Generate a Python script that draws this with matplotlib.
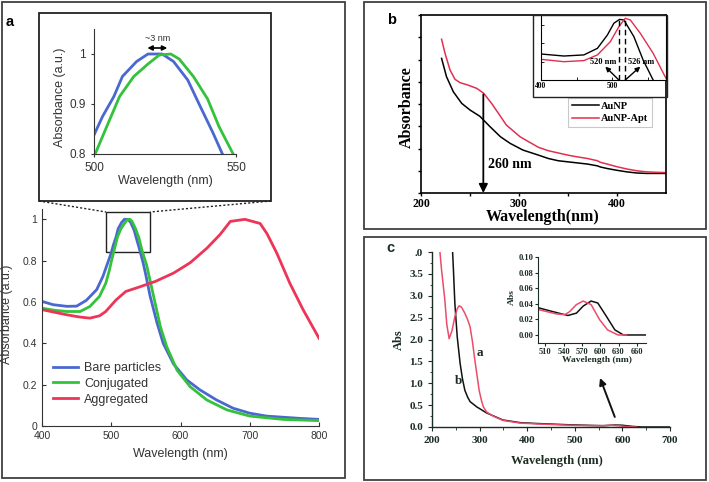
import matplotlib
matplotlib.use("Agg")
import matplotlib.pyplot as plt
from matplotlib.patches import Rectangle
import numpy as np

W, H = 709, 482
fig = plt.figure(figsize=(W/100, H/100), dpi=100)

def rect(l, t, r, b):
    return [l / W, 1 - b / H, (r - l) / W, (b - t) / H]

SANS = "Liberation Sans"
SERIF = "Liberation Serif"

# ---------------- Panel a data ----------------
a_bare_x = [400, 416, 436, 450, 464, 479, 488, 496, 500, 503, 507, 510, 515, 519, 524, 528, 533, 537, 542, 546,
            550, 556, 566, 575, 590, 609, 628, 652, 676, 700, 724, 772, 800]
a_bare_y = [0.603, 0.587, 0.579, 0.58, 0.608, 0.66, 0.724, 0.80, 0.838, 0.875, 0.915, 0.955, 0.985, 1.0, 1.0, 0.985,
            0.948, 0.90, 0.841, 0.79, 0.73, 0.63, 0.50, 0.40, 0.30, 0.223, 0.175, 0.126, 0.086, 0.062, 0.048, 0.037, 0.032]
a_conj_x = [400, 418, 436, 455, 469, 483, 492, 497, 500.4, 504.5, 509, 514, 519, 523, 527, 530, 535, 540, 544, 549,
            551, 561, 571, 580, 595, 614, 638, 667, 700, 748, 800]
a_conj_y = [0.57, 0.56, 0.554, 0.554, 0.578, 0.627, 0.69, 0.75, 0.80, 0.855, 0.915, 0.955, 0.98, 0.998, 1.0, 0.99,
            0.955, 0.91, 0.855, 0.80, 0.78, 0.63, 0.48, 0.385, 0.27, 0.19, 0.126, 0.078, 0.048, 0.032, 0.026]
a_aggr_x = [400, 436, 455, 469, 483, 492, 507, 521, 540, 564, 590, 614, 638, 657, 672, 693, 715, 725, 739, 758, 777, 800]
a_aggr_y = [0.563, 0.538, 0.527, 0.522, 0.533, 0.554, 0.61, 0.651, 0.672, 0.70, 0.74, 0.79, 0.86, 0.926, 0.99, 1.0,
            0.98, 0.93, 0.837, 0.69, 0.563, 0.425]
a_labels = ["Bare particles", "Conjugated", "Aggregated"]
a_colors = ["#4a68d0", "#33c23a", "#ec3557"]

# ---------------- Panel b data ----------------
b_np_x = [221, 226, 233, 241.5, 250, 260, 270, 281, 291, 304, 320, 330, 340, 350, 360, 370, 380, 383, 390, 400, 410,
          420, 430, 450]
b_np_y = [6.05, 5.23, 4.55, 4.03, 3.73, 3.45, 3.0, 2.53, 2.23, 1.93, 1.7, 1.55, 1.45, 1.4, 1.35, 1.3, 1.22, 1.17, 1.1,
          1.02, 0.95, 0.9, 0.88, 0.88]
b_apt_x = [221, 224.5, 229.6, 234.7, 239.8, 248, 257, 264, 272, 279, 287, 301, 310, 320, 330, 340, 350, 360, 370, 380,
           383, 390, 400, 410, 420, 430, 440, 450]
b_apt_y = [6.91, 6.28, 5.53, 5.11, 4.96, 4.85, 4.70, 4.48, 4.03, 3.58, 3.06, 2.53, 2.3, 2.05, 1.9, 1.8, 1.7, 1.62, 1.55,
           1.45, 1.38, 1.3, 1.18, 1.08, 1.0, 0.95, 0.93, 0.92]
bi_np_x = [400, 432, 460, 479, 493, 502, 510, 516, 530, 543, 557]
bi_np_y = [1.42, 1.31, 1.37, 1.73, 2.46, 3.1, 3.31, 3.28, 2.37, 1.09, 0.0]
bi_apt_x = [400, 432, 460, 479, 497, 509, 518, 525, 539, 557, 575]
bi_apt_y = [1.13, 1.0, 1.06, 1.37, 2.09, 2.91, 3.37, 3.28, 2.55, 1.46, 0.09]
b_labels = ["AuNP", "AuNP-Apt"]
b_peaks = [509, 518]
b_peak_labels = ["520 nm", "526 nm"]

# ---------------- Panel c data ----------------
c_a_x = [215, 220, 227, 231, 236, 242, 248, 253, 257, 262, 269, 275, 280, 285, 290, 295, 299, 304, 308, 315, 330, 349,
         385, 420, 490, 530, 559, 575, 590, 610, 630]
c_a_y = [4.2, 3.6, 2.9, 2.35, 2.02, 2.2, 2.52, 2.7, 2.77, 2.74, 2.6, 2.45, 2.29, 1.95, 1.53, 1.15, 0.84, 0.6, 0.46,
         0.34, 0.24, 0.15, 0.09, 0.07, 0.04, 0.03, 0.03, 0.04, 0.03, 0.01, 0.0]
c_b_x = [242, 245, 248, 253, 259, 264, 269, 275, 280, 294, 315, 349, 385, 420, 490, 540, 560, 585, 600, 620, 640, 700]
c_b_y = [4.3, 3.6, 2.83, 2.06, 1.46, 1.1, 0.84, 0.68, 0.58, 0.46, 0.32, 0.16, 0.1, 0.08, 0.05, 0.035, 0.03, 0.045,
         0.04, 0.015, 0.0, 0.0]
ci_a_x = [498, 528, 542, 550, 561, 572, 585, 599, 612, 629, 643]
ci_a_y = [0.0327, 0.027, 0.026, 0.030, 0.039, 0.0435, 0.039, 0.0196, 0.0065, 0.0, 0.0]
ci_b_x = [498, 522, 547, 561, 572, 585, 596, 610, 624, 638, 648, 675]
ci_b_y = [0.035, 0.030, 0.025, 0.028, 0.037, 0.0435, 0.041, 0.024, 0.0065, 0.0, 0.0, 0.0]

GRAY = "#333333"
CTXT = "#1b2c22"

# ================= Panel a main =================
ax = fig.add_axes(rect(42, 209, 319, 426))
for xs, ys, lab, col in zip([a_bare_x, a_conj_x, a_aggr_x], [a_bare_y, a_conj_y, a_aggr_y], a_labels, a_colors):
    ax.plot(xs, ys, color=col, lw=2.0, label=lab)
ax.set_xlim(400, 800)
ax.set_ylim(0, 1.05)
ax.set_xticks([400, 500, 600, 700, 800])
ax.set_yticks([0, 0.2, 0.4, 0.6, 0.8, 1.0])
ax.set_yticklabels(["0", "0.2", "0.4", "0.6", "0.8", "1"])
for s in ["top", "right"]:
    ax.spines[s].set_visible(False)
for s in ["left", "bottom"]:
    ax.spines[s].set_color(GRAY)
ax.tick_params(direction="in", length=3, colors=GRAY, labelsize=7.5, labelcolor=GRAY)
for t in ax.get_xticklabels() + ax.get_yticklabels():
    t.set_family(SANS)
ax.set_xlabel("Wavelength (nm)", family=SANS, fontsize=9, color=GRAY)
ax.set_ylabel("Absorbance (a.u.)", family=SANS, fontsize=9, color=GRAY)
ax.xaxis.set_label_coords(0.498, -0.10)
ax.yaxis.set_label_coords(-0.103, 0.516)
leg = ax.legend(loc="upper left", bbox_to_anchor=(53 / W, 1 - 362 / H), bbox_transform=fig.transFigure,
                frameon=False, prop={"family": SANS, "size": 9}, borderpad=0, borderaxespad=0,
                handlelength=2.0, labelspacing=0.3, handletextpad=0.5, labelcolor=GRAY)
ax.add_patch(Rectangle((492, 0.84), 64, 0.197, fill=False, edgecolor="#222222", lw=1.0, clip_on=False))

# ================= Panel a inset =================
axi = fig.add_axes(rect(94, 29, 236, 154))
axi.plot(a_bare_x, a_bare_y, color=a_colors[0], lw=2.0)
axi.plot(a_conj_x, a_conj_y, color=a_colors[1], lw=2.0)
axi.set_xlim(500, 550)
axi.set_ylim(0.8, 1.05)
axi.set_xticks([500, 550])
axi.set_yticks([0.8, 0.9, 1.0])
axi.set_yticklabels(["0.8", "0.9", "1"])
for s in ["top", "right"]:
    axi.spines[s].set_visible(False)
for s in ["left", "bottom"]:
    axi.spines[s].set_color(GRAY)
axi.tick_params(direction="out", length=2.5, colors=GRAY, labelsize=8.5, labelcolor=GRAY)
for t in axi.get_xticklabels() + axi.get_yticklabels():
    t.set_family(SANS)
axi.set_xlabel("Wavelength (nm)", family=SANS, fontsize=9, color=GRAY)
axi.set_ylabel("Absorbance (a.u.)", family=SANS, fontsize=9, color=GRAY)
axi.xaxis.set_label_coords(0.5, -0.165)
axi.yaxis.set_label_coords(-0.20, 0.456)
axi.annotate("", xy=(518.8, 1.012), xytext=(525.8, 1.012),
             arrowprops=dict(arrowstyle="<|-|>", color="black", lw=1.2, mutation_scale=7, shrinkA=0, shrinkB=0),
             annotation_clip=False)
axi.text(522.3, 1.022, "~3 nm", family=SANS, fontsize=6.5, color=GRAY, ha="center", va="bottom")

# ================= Panel b main =================
bx = fig.add_axes(rect(421, 15, 666, 193))
bx.set_facecolor("none")
bx.plot(b_np_x, b_np_y, color="black", lw=1.1, label=b_labels[0])
bx.plot(b_apt_x, b_apt_y, color="#e0304e", lw=1.1, label=b_labels[1])
bx.set_xlim(200, 450)
bx.set_ylim(0, 8)
bx.set_xticks([200, 300, 400])
bx.set_xticks([250, 350], minor=True)
bx.set_yticks(range(0, 9))
bx.set_yticklabels([])
for s in bx.spines.values():
    s.set_linewidth(1.2)
bx.tick_params(which="both", direction="out", length=2.5, width=1.0, labelsize=8.5, pad=1)
for t in bx.get_xticklabels():
    t.set_family(SERIF)
    t.set_fontweight("bold")
bx.set_xlabel("Wavelength(nm)", family=SERIF, fontweight="bold", fontsize=11.5)
bx.set_ylabel("Absorbance", family=SERIF, fontweight="bold", fontsize=11.5)
bx.xaxis.set_label_coords(0.498, -0.088)
bx.yaxis.set_label_coords(-0.024, 0.483)
bx.annotate("", xy=(263.6, 0.0), xytext=(263.6, 4.43),
            arrowprops=dict(arrowstyle="-|>", color="black", lw=1.3, mutation_scale=13, shrinkA=0, shrinkB=0))
bx.text(268, 1.27, "260 nm", family=SERIF, fontweight="bold", fontsize=10, va="center")
bleg = bx.legend(loc="upper left", bbox_to_anchor=(568 / W, 1 - 98 / H), bbox_transform=fig.transFigure,
                 prop={"family": SERIF, "weight": "bold", "size": 7.5}, fancybox=False, edgecolor="#bbbbbb",
                 handlelength=2.6, handletextpad=0.2, labelspacing=0.3, borderpad=0.35, borderaxespad=0)
bleg.get_frame().set_linewidth(0.8)

# ================= Panel b inset =================
bi = fig.add_axes(rect(541, 15, 666, 80))
bi.plot(bi_np_x, bi_np_y, color="black", lw=1.0)
bi.plot(bi_apt_x, bi_apt_y, color="#e0304e", lw=1.0)
bi.set_xlim(400, 575)
bi.set_ylim(0, 3.55)
bi.set_xticks([400, 500])
bi.set_xticks([450, 550], minor=True)
bi.set_yticks([0, 1, 2, 3])
bi.set_yticklabels([])
bi.tick_params(which="both", direction="in", length=2, width=0.6, labelsize=5.5, pad=1.5)
for t in bi.get_xticklabels():
    t.set_family(SERIF)
    t.set_fontweight("bold")
for s in bi.spines.values():
    s.set_linewidth(0.8)
bi.spines["top"].set_visible(False)
for xp, yp in zip(b_peaks, [3.31, 3.37]):
    bi.plot([xp, xp], [0, yp], color="black", lw=1.0, ls=(0, (4, 2.5)))
bi.annotate(b_peak_labels[0], xy=(490, 0.73), xytext=(487, 1.0), ha="center", va="center",
            family=SERIF, fontweight="bold", fontsize=6)
bi.annotate(b_peak_labels[1], xy=(539, 0.73), xytext=(540, 1.0), ha="center", va="center",
            family=SERIF, fontweight="bold", fontsize=6)
bi.annotate("", xy=(490, 0.73), xytext=(509, 0.0),
            arrowprops=dict(arrowstyle="-|>", color="black", lw=1.0, mutation_scale=7, shrinkA=0, shrinkB=0))
bi.annotate("", xy=(539, 0.73), xytext=(518, 0.0),
            arrowprops=dict(arrowstyle="-|>", color="black", lw=1.0, mutation_scale=7, shrinkA=0, shrinkB=0))

# ================= Panel c main =================
cx = fig.add_axes(rect(432, 252, 670, 427))
cx.plot(c_b_x, c_b_y, color="#111111", lw=1.1)
cx.plot(c_a_x, c_a_y, color="#ec4c6a", lw=1.1)
cx.set_xlim(200, 700)
cx.set_ylim(0, 4.0)
cx.set_xticks(range(200, 701, 100))
cx.set_xticks(range(250, 700, 100), minor=True)
cx.set_yticks(np.arange(0, 4.01, 0.5))
cx.set_yticks(np.arange(0.25, 4.0, 0.5), minor=True)
cx.set_yticklabels(["0.0", "0.5", "1.0", "1.5", "2.0", "2.5", "3.0", "3.5", ".0"])
for s in ["top", "right"]:
    cx.spines[s].set_visible(False)
for s in ["left", "bottom"]:
    cx.spines[s].set_color(CTXT)
    cx.spines[s].set_linewidth(1.0)
cx.tick_params(which="major", direction="out", length=3, colors=CTXT, labelsize=8)
cx.tick_params(which="minor", direction="out", length=1.8, colors=CTXT)
for t in cx.get_xticklabels() + cx.get_yticklabels():
    t.set_family(SERIF)
    t.set_fontweight("bold")
cx.set_xlabel("Wavelength (nm)", family=SERIF, fontweight="bold", fontsize=9, color=CTXT)
cx.set_ylabel("Abs", family=SERIF, fontweight="bold", fontsize=9, color=CTXT)
cx.xaxis.set_label_coords(0.525, -0.158)
cx.yaxis.set_label_coords(-0.115, 0.497)
cx.text(301, 1.69, "a", family=SERIF, fontweight="bold", fontsize=9.5, color=CTXT, ha="center", va="center")
cx.text(255, 1.05, "b", family=SERIF, fontweight="bold", fontsize=9.5, color=CTXT, ha="center", va="center")
cx.annotate("", xy=(553, 1.12), xytext=(584, 0.23),
            arrowprops=dict(arrowstyle="-|>", color="#111111", lw=1.4, mutation_scale=10, shrinkA=0, shrinkB=0))

# ================= Panel c inset =================
ci = fig.add_axes(rect(538, 257, 646, 343))
ci.plot(ci_b_x, ci_b_y, color="#111111", lw=1.1)
ci.plot(ci_a_x, ci_a_y, color="#ec4c6a", lw=1.1)
ci.set_xlim(498, 675)
ci.set_ylim(-0.0103, 0.10)
ci.set_xticks(range(510, 661, 30))
ci.set_yticks([0.0, 0.02, 0.04, 0.06, 0.08, 0.10])
ci.set_yticklabels(["0.00", "0.02", "0.04", "0.06", "0.08", "0.10"])
for s in ["top", "right"]:
    ci.spines[s].set_visible(False)
for s in ["left", "bottom"]:
    ci.spines[s].set_color(CTXT)
ci.tick_params(direction="out", length=2, colors=CTXT, labelsize=6, pad=1.5)
for t in ci.get_xticklabels() + ci.get_yticklabels():
    t.set_family(SERIF)
    t.set_fontweight("bold")
ci.set_xlabel("Wavelength (nm)", family=SERIF, fontweight="bold", fontsize=6.8, color=CTXT)
ci.set_ylabel("Abs", family=SERIF, fontweight="bold", fontsize=6.8, color=CTXT)
ci.xaxis.set_label_coords(0.546, -0.15)
ci.yaxis.set_label_coords(-0.20, 0.535)

# ================= overlay (frames, panel letters, connectors) =================
ov = fig.add_axes([0, 0, 1, 1], zorder=10)
ov.set_xlim(0, W)
ov.set_ylim(H, 0)
ov.axis("off")
ov.patch.set_visible(False)
FR = "#404040"
ov.add_patch(Rectangle((2, 2), 343, 476, fill=False, edgecolor=FR, lw=1.3))
ov.add_patch(Rectangle((364, 2), 342, 227, fill=False, edgecolor=FR, lw=1.3))
ov.add_patch(Rectangle((364, 237), 342, 243, fill=False, edgecolor=FR, lw=1.3))
ov.add_patch(Rectangle((39, 13), 232, 188, fill=False, edgecolor="#222222", lw=1.3))
ov.add_patch(Rectangle((533, 15), 134, 82, fill=False, edgecolor="#222222", lw=1.0))
ov.plot([39, 106], [201, 212], color="#222222", lw=1.0, ls=(0, (1.5, 1.5)))
ov.plot([271, 150], [201, 212], color="#222222", lw=1.0, ls=(0, (1.5, 1.5)))
ov.text(10, 22, "a", family=SANS, fontweight="bold", fontsize=10.5, ha="center", va="center")
ov.text(392, 20, "b", family=SANS, fontweight="bold", fontsize=10.5, ha="center", va="center")
ov.text(390, 248, "c", family=SANS, fontweight="bold", fontsize=10.5, ha="center", va="center", color=CTXT)

fig.savefig("out.png", dpi=100)
